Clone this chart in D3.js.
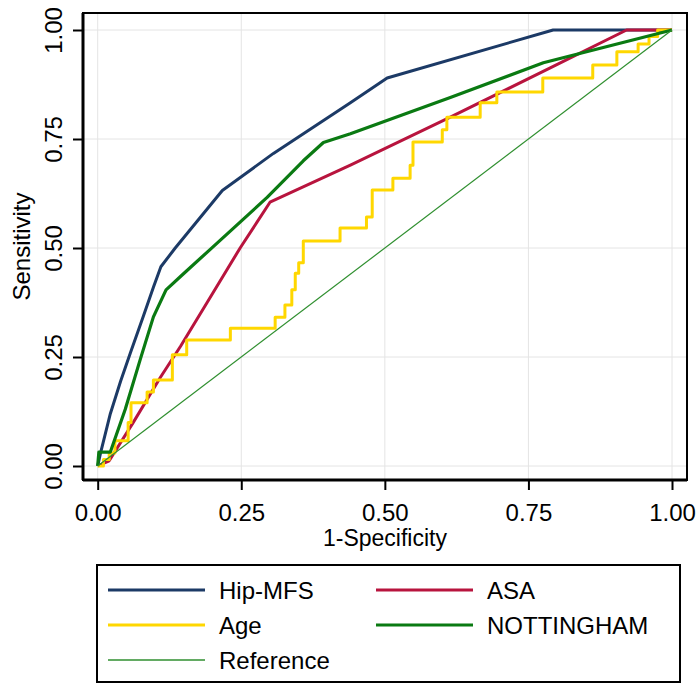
<!DOCTYPE html>
<html>
<head>
<meta charset="utf-8">
<script src="https://cdn.jsdelivr.net/npm/d3@7"></script>
<style>
  html, body { margin: 0; padding: 0; background: #fff; }
  svg { display: block; font-family: "Liberation Sans", Arial, sans-serif; }
</style>
</head>
<body>
<svg id="chart" width="700" height="689"></svg>
<script>
// ---- Data ----
const tickValues = [0, 0.25, 0.5, 0.75, 1];
const tickLabels = ["0.00", "0.25", "0.50", "0.75", "1.00"];

const hipFpr = [0, 0.005, 0.022, 0.04, 0.057, 0.079, 0.097, 0.11, 0.135, 0.217, 0.306, 0.44, 0.504, 0.793, 1];
const hipTpr = [0, 0.03, 0.12, 0.195, 0.26, 0.342, 0.41, 0.457, 0.5, 0.632, 0.717, 0.833, 0.89, 1, 1];

const asaFpr = [0, 0.02, 0.062, 0.109, 0.144, 0.19, 0.248, 0.3, 0.44, 0.614, 0.788, 0.921, 1];
const asaTpr = [0, 0.012, 0.1, 0.203, 0.274, 0.374, 0.5, 0.605, 0.69, 0.8, 0.913, 1, 1];

// Age: step corners (horizontal first, then up)
const ageFpr = [0, 0.01, 0.02, 0.03, 0.053, 0.058, 0.086, 0.097, 0.13, 0.155, 0.231, 0.309, 0.326, 0.338, 0.344, 0.35, 0.358, 0.422, 0.468, 0.478, 0.514, 0.544, 0.549, 0.6, 0.608, 0.666, 0.695, 0.775, 0.862, 0.904, 0.941, 0.96, 0.975, 1];
const ageTpr = [0, 0.015, 0.03, 0.058, 0.1, 0.145, 0.17, 0.197, 0.255, 0.289, 0.316, 0.341, 0.369, 0.404, 0.442, 0.466, 0.516, 0.546, 0.571, 0.633, 0.66, 0.69, 0.743, 0.771, 0.8, 0.833, 0.858, 0.89, 0.92, 0.95, 0.968, 0.985, 1, 1];

const notFpr = [0, 0.002, 0.022, 0.048, 0.074, 0.097, 0.119, 0.147, 0.196, 0.295, 0.358, 0.393, 0.44, 0.614, 0.776, 1];
const notTpr = [0, 0.032, 0.032, 0.13, 0.244, 0.342, 0.404, 0.438, 0.497, 0.616, 0.7, 0.742, 0.762, 0.845, 0.925, 1];

const refFpr = [0, 1];
const refTpr = [0, 1];

const seriesNames = ["Hip-MFS", "ASA", "Age", "NOTTINGHAM", "Reference"];
const seriesColors = ["#1c3a66", "#b8143e", "#FFD700", "#0a7a12", "#2f8f2f"];

// ---- Layout ----
const svg = d3.select("#chart");
const x = d3.scaleLinear().domain([0, 1]).range([97.7, 672]);
const y = d3.scaleLinear().domain([0, 1]).range([466, 30]);
const box = { left: 83, right: 687, top: 13, bottom: 480 };
const FONT = 24;

// gridlines
svg.append("g").selectAll("line.gx").data(tickValues).join("line")
  .attr("x1", d => x(d)).attr("x2", d => x(d))
  .attr("y1", box.top).attr("y2", box.bottom)
  .attr("stroke", "#e4e4e4").attr("stroke-width", 1);
svg.append("g").selectAll("line.gy").data(tickValues).join("line")
  .attr("y1", d => y(d)).attr("y2", d => y(d))
  .attr("x1", box.left).attr("x2", box.right)
  .attr("stroke", "#e4e4e4").attr("stroke-width", 1);

// curves
const mk = (fx, ty) => fx.map((v, i) => [v, ty[i]]);
const data = [mk(hipFpr, hipTpr), mk(asaFpr, asaTpr), mk(ageFpr, ageTpr), mk(notFpr, notTpr), mk(refFpr, refTpr)];
const lineLin = d3.line().x(d => x(d[0])).y(d => y(d[1]));
const lineStep = d3.line().x(d => x(d[0])).y(d => y(d[1])).curve(d3.curveStepAfter);
const widths = [3, 3, 3, 3.2, 1.2];

data.forEach((pts, i) => {
  svg.append("path")
    .attr("d", seriesNames[i] === "Age" ? lineStep(pts) : lineLin(pts))
    .attr("fill", "none")
    .attr("stroke", seriesColors[i])
    .attr("stroke-width", widths[i])
    .attr("stroke-linejoin", "round");
});

// frame
svg.append("rect")
  .attr("x", box.left).attr("y", box.top)
  .attr("width", box.right - box.left).attr("height", box.bottom - box.top)
  .attr("fill", "none").attr("stroke", "#000").attr("stroke-width", 2);

// axes
const xAxis = d3.axisBottom(x).tickValues(tickValues).tickFormat((d, i) => tickLabels[i]).tickSize(10).tickSizeOuter(0).tickPadding(6);
const gx = svg.append("g").attr("transform", `translate(0,${box.bottom})`).call(xAxis);
gx.select(".domain").attr("d", `M${box.left},0H${box.right}`).attr("stroke-width", 3);
gx.selectAll(".tick line").attr("stroke-width", 2);
gx.selectAll(".tick text").attr("font-size", FONT).attr("font-family", "Liberation Sans, Arial, sans-serif")
  .attr("fill", "#000").attr("dy", null).attr("y", 41);

const yAxis = d3.axisLeft(y).tickValues(tickValues).tickFormat((d, i) => tickLabels[i]).tickSize(10).tickSizeOuter(0);
const gy = svg.append("g").attr("transform", `translate(${box.left},0)`).call(yAxis);
gy.select(".domain").attr("d", `M0,${box.top}V${box.bottom}`).attr("stroke-width", 3);
gy.selectAll(".tick line").attr("stroke-width", 2);
gy.selectAll(".tick text").attr("font-size", FONT).attr("font-family", "Liberation Sans, Arial, sans-serif")
  .attr("fill", "#000").attr("x", null).attr("dy", null)
  .attr("text-anchor", "middle")
  .attr("transform", "translate(-21,0) rotate(-90)");

// axis titles
svg.append("text").text("1-Specificity")
  .attr("x", (box.left + box.right) / 2).attr("y", 546)
  .attr("text-anchor", "middle").attr("font-size", 23).attr("fill", "#000");
svg.append("text").text("Sensitivity")
  .attr("transform", `translate(30,${(box.top + box.bottom) / 2}) rotate(-90)`)
  .attr("text-anchor", "middle").attr("font-size", FONT).attr("fill", "#000");

// legend
const lg = svg.append("g");
lg.append("rect").attr("x", 97).attr("y", 565).attr("width", 583).attr("height", 117)
  .attr("fill", "#fff").attr("stroke", "#000").attr("stroke-width", 2);
const legPos = [[0, 0], [1, 0], [0, 1], [1, 1], [0, 2]];
const colX = [108, 376], rowY = [590, 625, 660];
seriesNames.forEach((name, i) => {
  const cx = colX[legPos[i][0]], cy = rowY[legPos[i][1]];
  lg.append("line").attr("x1", cx).attr("x2", cx + 97).attr("y1", cy).attr("y2", cy)
    .attr("stroke", seriesColors[i]).attr("stroke-width", i === 4 ? 1.5 : 3);
  lg.append("text").text(name).attr("x", cx + 111).attr("y", cy + 9)
    .attr("font-size", FONT).attr("fill", "#000");
});
</script>
</body>
</html>
